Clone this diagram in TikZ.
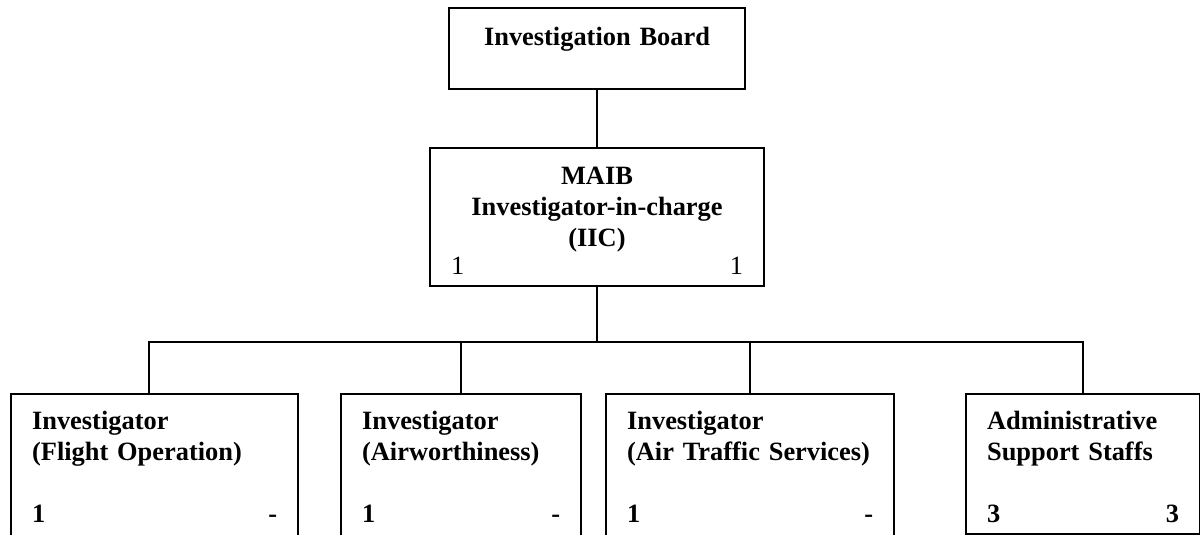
\documentclass[tikz,border=0pt]{standalone}
\usepackage{fontspec}
\setmainfont{Liberation Serif}
\usepackage{tikz}
\usetikzlibrary{positioning}
\tikzset{
  org/.style={
    draw, line width=1.1pt,
    inner xsep=10.5pt, inner ysep=0pt,
    align=left, text height=17.5pt,
    font=\fontsize{13.2}{15.5}\selectfont\bfseries
  },
  orgc/.style={org, align=center},
  conn/.style={line width=1.1pt}
}

\begin{document}
\begin{tikzpicture}

  \useasboundingbox (0,0) rectangle (600pt,-267.5pt);

  % top of the chart
  \node[orgc, text width=127pt, text height=19pt, text depth=21.5pt]
        (board) at (298.5pt,-24.25pt) {Investigation Board};
  \node[orgc, text width=146pt, text height=18pt, text depth=50.75pt,
        below=28.5pt of board] (iic)
        {MAIB\\Investigator-in-charge\\(IIC)\\[-1.5pt]\mdseries 1\hfill 1};
  \coordinate[below=27.75pt of iic] (bus);

  % team
  \node[org, text width=122.5pt, text depth=56pt, anchor=north west]
        (fo) at (5pt,-196.5pt)
        {Investigator\\(Flight Operation)\\[15.5pt]1\hfill-};
  \node[org, text width=99pt, text depth=56pt,
        right=20.4pt of fo.north east, anchor=north west] (aw)
        {Investigator\\(Airworthiness)\\[15.5pt]1\hfill-};
  \node[org, text width=123pt, text depth=56pt,
        right=11.4pt of aw.north east, anchor=north west] (ats)
        {Investigator\\(Air Traffic Services)\\[15.5pt]1\hfill-\hspace*{3pt}};
  \node[org, text width=96pt, text depth=52.5pt,
        right=34.9pt of ats.north east, anchor=north west] (adm)
        {Administrative\\Support Staffs\\[15.5pt]3\hfill 3};

  \draw[conn] (board) -- (iic);
  \draw[conn] (iic) -- (bus);
  \draw[conn] ([xshift=-2.75pt]fo.north) -- ([xshift=-2.75pt]fo.north |- bus)
        -- (adm.north |- bus) -- (adm.north);
  \draw[conn] (aw.north |- bus) -- (aw.north);
  \draw[conn] (ats.north |- bus) -- (ats.north);

\end{tikzpicture}
\end{document}
